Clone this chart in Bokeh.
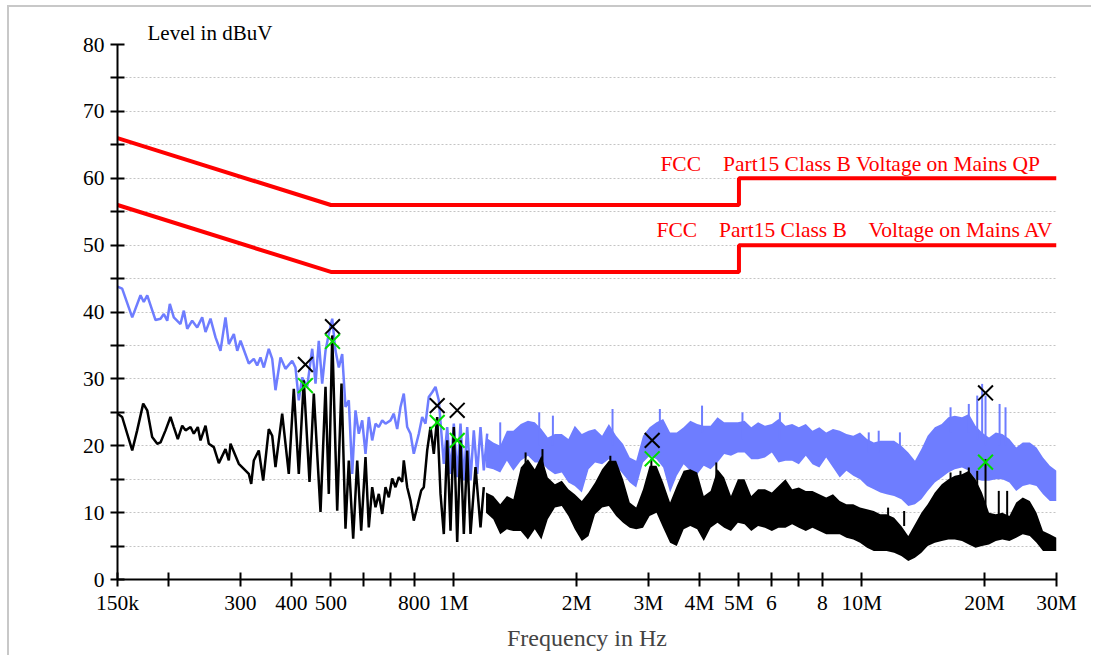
from bokeh.plotting import figure
from bokeh.models import FixedTicker, Label, Range1d
from bokeh.embed import file_html
from bokeh.resources import INLINE

# ---------------- data ----------------
# axis ticks
x_ticks = [150000, 200000, 300000, 400000, 500000, 600000, 700000, 800000, 1000000,
           2000000, 3000000, 4000000, 5000000, 6000000, 7000000, 8000000, 10000000,
           20000000, 30000000]
x_labels = ["150k", "", "300", "400", "500", "", "", "800", "1M",
            "2M", "3M", "4M", "5M", "6", "", "8", "10M", "20M", "30M"]
y_ticks = [0, 5, 10, 15, 20, 25, 30, 35, 40, 45, 50, 55, 60, 65, 70, 75, 80]
y_labels = ["0", "", "10", "", "20", "", "30", "", "40", "", "50", "", "60", "", "70", "", "80"]

# limit lines (MHz, dBuV)
qp_limit_f = [0.15, 0.5, 5.0, 5.0, 30.0]
qp_limit_v = [66, 56, 56, 60, 60]
av_limit_f = [0.15, 0.5, 5.0, 5.0, 30.0]
av_limit_v = [56, 46, 46, 50, 50]

# peak trace (blue), resolved part below ~1.2 MHz (kHz, dBuV)
peak_f_khz = [150, 154.0, 163.0, 170.8, 174.0, 177.4, 185.9, 191.2, 194.8, 198.6, 201.5, 206.1,
              214.0, 218.1, 222.3, 228.6, 235.2, 241.9, 246.5, 253.5, 260.8, 268.2, 275.9, 281.1,
              289.2, 294.8, 300.3, 314.7, 323.7, 329.9, 336.1, 342.5, 352.2, 359.1, 365.8, 376.3,
              387.0, 401.9, 409.5, 417.2, 425.3, 437.4, 450.0, 458.5, 467.1, 476.1, 485.1, 494.2,
              503.8, 513.2, 522.9, 533.0, 543.0, 553.2, 564.0, 574.5, 585.3, 596.7, 607.9, 619.3,
              631.3, 643.2, 655.3, 668.0, 680.5, 700.0, 713.1, 726.9, 740.6, 754.5, 769.1, 783.6,
              798.3, 821.2, 837.1, 852.8, 868.8, 885.7, 902.3, 919.3, 945.6, 963.9, 982.0, 1000.5,
              1019.9, 1039.0, 1058.6, 1079.1, 1099.4, 1120.0, 1141.7, 1163.2, 1185.0, 1208.0]
peak_v = [43.8, 43.5, 39.2, 42.5, 41.5, 42.5, 38.8, 39.0, 39.7, 38.7, 41.2, 39.2,
          38.2, 40.2, 37.5, 38.7, 37.7, 39.2, 37.0, 39.0, 36.2, 34.2, 39.2, 35.2,
          36.7, 34.2, 35.7, 32.3, 33.0, 32.0, 33.2, 31.7, 34.5, 33.0, 28.3, 33.2,
          31.5, 32.7, 31.7, 26.8, 30.2, 28.8, 34.5, 29.3, 35.7, 29.3, 34.2, 36.7,
          39.0, 34.2, 31.7, 33.7, 25.8, 26.8, 15.8, 25.3, 21.8, 23.8, 18.8, 24.3,
          20.8, 23.3, 22.8, 23.8, 23.3, 23.8, 24.8, 22.5, 25.8, 27.8, 22.8, 21.8,
          18.8, 21.8, 24.3, 23.3, 27.3, 28.0, 28.8, 26.8, 17.3, 22.8, 15.8, 23.3,
          15.3, 23.3, 14.8, 22.8, 14.8, 22.3, 15.8, 22.8, 16.3, 21.8]

# average trace (black), resolved part below ~1.2 MHz (kHz, dBuV)
avg_f_khz = [150, 154.0, 163.0, 167.6, 173.4, 177.4, 182.4, 187.7, 191.2, 196.7, 202.3, 206.1,
             210.8, 216.1, 220.2, 226.5, 230.7, 236.0, 239.6, 246.5, 251.1, 258.3, 265.7, 275.9,
             281.1, 283.8, 297.4, 314.7, 319.0, 323.7, 332.9, 341.3, 352.2, 359.1, 365.8, 379.9,
             394.3, 405.6, 417.2, 429.1, 443.2, 454.1, 471.6, 485.1, 494.2, 503.8, 518.2, 530.9,
             543.0, 553.2, 567.1, 580.1, 593.3, 607.9, 619.3, 631.3, 643.2, 655.3, 668.0, 680.5,
             693.3, 706.7, 720.0, 733.5, 747.7, 754.5, 769.1, 783.6, 798.3, 813.8, 832.4, 844.7,
             861.0, 877.2, 893.7, 911.0, 928.2, 945.6, 963.9, 982.0, 1000.5, 1019.9, 1039.0,
             1058.6, 1079.1, 1099.4, 1130.8, 1163.2, 1185.0]
avg_v = [24.8, 24.3, 19.3, 22.3, 26.3, 25.3, 21.3, 20.3, 20.5, 22.3, 24.3, 22.8,
         21.0, 23.0, 22.3, 22.8, 21.8, 22.8, 20.8, 23.0, 20.3, 19.8, 17.4, 19.5,
         17.8, 20.3, 17.3, 15.8, 14.3, 17.8, 19.3, 14.8, 22.5, 21.5, 16.8, 24.8,
         15.8, 28.5, 15.8, 29.8, 14.6, 27.8, 10.1, 28.8, 12.8, 36.5, 10.3, 29.3,
         7.6, 17.8, 6.1, 17.8, 7.3, 18.3, 7.8, 13.8, 10.8, 12.8, 9.8, 13.8,
         12.3, 15.1, 13.8, 15.3, 14.6, 17.8, 13.8, 11.8, 8.8, 10.8, 13.3, 13.8,
         19.3, 22.8, 18.8, 24.3, 12.8, 6.8, 20.8, 7.3, 22.8, 5.6, 20.8,
         6.8, 19.3, 6.8, 16.8, 7.8, 13.8]

# dense part above 1.2 MHz: envelope of the trace (MHz, dBuV)
band_f_mhz = [1.20, 1.25, 1.30, 1.35, 1.40, 1.46, 1.52, 1.58, 1.64, 1.70, 1.77, 1.84, 1.91, 1.98,
              2.06, 2.14, 2.22, 2.31, 2.40, 2.50, 2.60, 2.70, 2.80, 2.91,
              3.02, 3.14, 3.26, 3.39, 3.52, 3.66, 3.80, 3.95,
              4.10, 4.26, 4.43, 4.60, 4.78, 4.97,
              5.16, 5.36, 5.57, 5.79, 6.02, 6.25, 6.50, 6.75, 7.01, 7.29, 7.57, 7.87, 8.18, 8.50,
              8.83, 9.17, 9.53, 9.90,
              10.3, 10.7, 11.1, 11.5, 12.0, 12.5, 13.0, 13.5, 14.0, 14.5, 15.1, 15.7, 16.3, 16.9,
              17.6, 18.3, 19.0, 19.7, 20.5, 21.3, 22.1, 23.0, 23.9, 24.8, 25.8, 26.8, 27.8, 28.9, 30.0]
peak_hi = [21.25, 20.5, 20.0, 22.25, 22.25, 23.25, 23.75, 23.5, 22.5, 21.25, 21.75, 21.75, 21.0, 23.0,
           21.75, 22.25, 22.5, 21.5, 23.25, 21.5, 20.25, 18.25, 17.75, 21.5,
           22.75, 23.5, 24.0, 22.0, 22.0, 22.75, 23.75, 23.25,
           23.0, 23.0, 24.25, 23.5, 23.5, 23.5,
           23.75, 22.75, 23.5, 23.0, 23.25, 24.0, 23.0, 23.25, 22.75, 23.25, 22.25, 22.75, 22.0, 22.5,
           22.25, 21.75, 21.5, 22.0,
           21.0, 20.5, 20.75, 20.75, 20.75, 20.0, 19.0, 17.75, 19.5, 21.5, 22.75, 23.25, 24.25, 24.5,
           24.25, 24.75, 23.0, 22.0, 21.25, 22.0, 21.75, 21.0, 19.75, 20.5, 20.5, 19.75, 18.25, 17.0, 16.25]
peak_lo = [16.75, 16.5, 16.0, 17.75, 16.25, 17.75, 18.5, 17.5, 17.5, 16.5, 15.75, 16.0, 14.5, 14.0,
           13.0, 16.5, 17.5, 17.25, 18.0, 17.0, 15.75, 14.5, 13.75, 17.5,
           18.5, 18.0, 16.75, 13.0, 15.5, 17.25, 16.25, 15.75,
           17.0, 16.5, 17.5, 18.75, 18.5, 19.0,
           19.0, 18.0, 18.0, 18.25, 19.0, 17.5, 17.75, 17.75, 17.25, 18.5, 17.25, 16.75, 18.25, 16.75,
           15.25, 16.25, 15.5, 15.0,
           14.0, 13.5, 13.0, 12.75, 12.5, 12.0, 11.0, 11.25, 12.0, 13.25, 14.5, 15.25, 16.0, 16.5,
           16.75, 16.25, 15.0, 14.75, 14.75, 15.0, 15.0, 14.5, 13.25, 14.0, 14.25, 14.0, 12.75, 11.75, 11.75]
avg_hi = [13.0, 12.5, 11.25, 12.5, 12.0, 16.75, 18.0, 16.5, 18.5, 15.25, 14.25, 14.75, 13.5, 12.75,
          11.75, 13.0, 14.5, 16.5, 17.75, 17.75, 15.0, 11.5, 10.75, 13.5,
          17.0, 17.0, 14.5, 11.5, 14.0, 16.25, 16.5, 16.0,
          12.5, 13.25, 16.5, 15.25, 12.5, 15.0,
          15.0, 12.5, 13.5, 13.5, 13.0, 14.0, 15.0, 13.5, 13.75, 13.25, 13.25, 12.75, 12.25, 12.75,
          11.75, 11.25, 11.25, 10.75,
          10.5, 10.25, 9.75, 9.75, 9.25, 8.0, 6.5, 8.25, 10.0, 11.25, 13.0, 14.25, 15.0, 15.5,
          15.75, 16.25, 15.0, 13.0, 10.0, 9.75, 10.0, 9.5, 11.5, 12.25, 11.75, 10.0, 7.25, 6.75, 6.25]
avg_lo = [10.0, 9.0, 6.75, 7.5, 7.25, 7.25, 6.0, 7.5, 6.0, 9.0, 10.75, 11.0, 9.5, 7.5,
          5.75, 6.5, 9.75, 10.75, 11.0, 9.5, 8.5, 7.75, 7.5, 7.75,
          9.5, 10.0, 7.75, 5.5, 5.0, 7.5, 8.0, 7.5,
          5.75, 7.75, 8.5, 7.75, 7.25, 8.5,
          8.25, 7.25, 8.0, 7.75, 7.25, 7.75, 7.75, 8.25, 7.75, 7.25, 7.75, 7.25, 6.75, 6.75,
          6.75, 6.25, 6.0, 5.5,
          4.75, 4.25, 4.25, 4.25, 4.0, 3.5, 2.75, 3.25, 4.0, 5.0, 5.5, 5.75, 6.0, 6.0,
          5.75, 5.25, 4.75, 5.0, 5.25, 5.75, 6.0, 5.75, 6.25, 6.75, 6.5, 5.5, 4.25, 4.25, 4.25]

# isolated spikes in the dense part (MHz, top, foot)
peak_spike_f = [1.30, 1.62, 1.75, 2.45, 3.20, 4.06, 5.10, 6.30, 10.4, 11.0, 12.4, 16.5, 18.29,
                19.18, 19.72, 20.1, 21.76, 22.5]
peak_spike_top = [23.5, 25.0, 24.5, 25.5, 25.5, 26.0, 25.0, 25.0, 22.0, 22.25, 22.0, 25.75, 26.25,
                  27.5, 29.25, 27.5, 26.25, 25.75]
peak_spike_foot = [19.0, 20.0, 20.0, 20.0, 21.0, 22.0, 21.0, 21.0, 19.0, 19.0, 19.0, 22.0, 22.0,
                   21.0, 21.0, 20.0, 20.0, 20.0]
avg_spike_f = [1.50, 1.65, 2.42, 3.05, 4.40, 11.6, 12.7, 16.5, 17.45, 18.29, 19.18, 20.1,
               21.66, 22.71]
avg_spike_top = [19.0, 19.5, 18.5, 18.0, 17.5, 10.75, 10.25, 16.0, 16.25, 16.75, 16.25, 18.0,
                 13.25, 13.25]
avg_spike_foot = [14.0, 14.0, 14.0, 14.0, 13.0, 8.0, 8.0, 12.0, 12.0, 12.0, 12.0, 8.0, 9.0, 9.0]

# final measurement markers (kHz, dBuV)
marker_f_khz = [433, 504.6, 911, 1019.9, 3064, 20100]
qp_marks = [32.15, 37.8, 26.0, 25.3, 20.8, 27.9]
av_marks = [29.0, 35.6, 23.5, 20.8, 18.05, 17.55]

# ---------------- styles ----------------
BLUE = "#6e7dff"
RED = "#ff0000"
GREEN = "#00dd00"
FONT = "Liberation Serif"
FS = "21.5px"
FS_TITLE = "21px"
FS_AXIS = "24px"

p = figure(width=1084, height=650, x_axis_type="log",
           x_range=Range1d(150e3, 30e6), y_range=Range1d(0, 80),
           output_backend="svg", toolbar_location=None,
           min_border_left=108, min_border_right=37, min_border_top=37, min_border_bottom=78)
p.margin = (5, 0, 0, 7)
p.styles = {"border-top": "2px solid #c8c8c8", "border-left": "2px solid #c8c8c8"}
p.outline_line_color = None
p.background_fill_color = "white"
p.border_fill_color = "white"

# y-axis title written at the top left of the frame
p.title.text = "Level in dBuV"
p.title.align = "left"
p.title.offset = 30
p.title.standoff = 0
p.title.text_font = FONT
p.title.text_font_size = FS_TITLE
p.title.text_font_style = "normal"
p.title.text_color = "black"

# axes
for ax in (p.xaxis[0], p.yaxis[0]):
    ax.axis_line_color = "black"
    ax.axis_line_width = 2
    ax.major_tick_line_color = "black"
    ax.major_tick_line_width = 2
    ax.major_tick_in = 7
    ax.major_tick_out = 7
    ax.minor_tick_line_color = None
    ax.major_label_text_font = FONT
    ax.major_label_text_font_size = FS
    ax.major_label_text_color = "black"

p.xaxis.ticker = FixedTicker(ticks=x_ticks)
p.xaxis.major_label_overrides = dict(zip(x_ticks, x_labels))
p.xaxis.major_label_standoff = 4
p.xaxis.axis_label = "Frequency in Hz"
p.xaxis.axis_label_text_font = FONT
p.xaxis.axis_label_text_font_size = FS_AXIS
p.xaxis.axis_label_text_font_style = "normal"
p.xaxis.axis_label_standoff = 7

p.yaxis.ticker = FixedTicker(ticks=y_ticks)
p.yaxis.major_label_overrides = dict(zip(y_ticks, y_labels))
p.yaxis.major_label_standoff = 6

p.xgrid.visible = False
p.ygrid.ticker = FixedTicker(ticks=y_ticks)
p.ygrid.grid_line_color = "#c4c4c4"
p.ygrid.grid_line_dash = "2 2"
p.ygrid.grid_line_width = 1

# peak trace
p.line([f * 1e3 for f in peak_f_khz], peak_v, line_color=BLUE, line_width=2.5)
p.varea(x=[f * 1e6 for f in band_f_mhz], y1=peak_lo, y2=peak_hi, fill_color=BLUE)
p.segment(x0=[f * 1e6 for f in peak_spike_f], x1=[f * 1e6 for f in peak_spike_f],
          y0=peak_spike_foot, y1=peak_spike_top, line_color=BLUE, line_width=2)

# average trace
p.line([f * 1e3 for f in avg_f_khz], avg_v, line_color="black", line_width=2.5)
p.varea(x=[f * 1e6 for f in band_f_mhz], y1=avg_lo, y2=avg_hi, fill_color="black")
p.segment(x0=[f * 1e6 for f in avg_spike_f], x1=[f * 1e6 for f in avg_spike_f],
          y0=avg_spike_foot, y1=avg_spike_top, line_color="black", line_width=2)

# limits
p.line([f * 1e6 for f in qp_limit_f], qp_limit_v, line_color=RED, line_width=4)
p.line([f * 1e6 for f in av_limit_f], av_limit_v, line_color=RED, line_width=4)

# markers
mf = [f * 1e3 for f in marker_f_khz]
p.scatter(mf, qp_marks, marker="x", size=21, line_color="black", line_width=2)
p.scatter(mf, av_marks, marker="x", size=21, line_color=GREEN, line_width=2)

# texts
def add_label(x, y, text, color="black", align="left"):
    p.add_layout(Label(x=x, y=y, text=text, text_font=FONT, text_font_size=FS,
                       text_color=color, text_align=align, text_baseline="alphabetic"))

add_label(3.21e6, 62.1, "FCC", RED)
add_label(27.4e6, 62.1, "Part15 Class B Voltage on Mains QP", RED, "right")
add_label(3.14e6, 52.25, "FCC", RED)
add_label(4.47e6, 52.25, "Part15 Class B", RED)
add_label(29.5e6, 52.25, "Voltage on Mains AV", RED, "right")

open("out.html", "w").write(file_html(p, INLINE))
